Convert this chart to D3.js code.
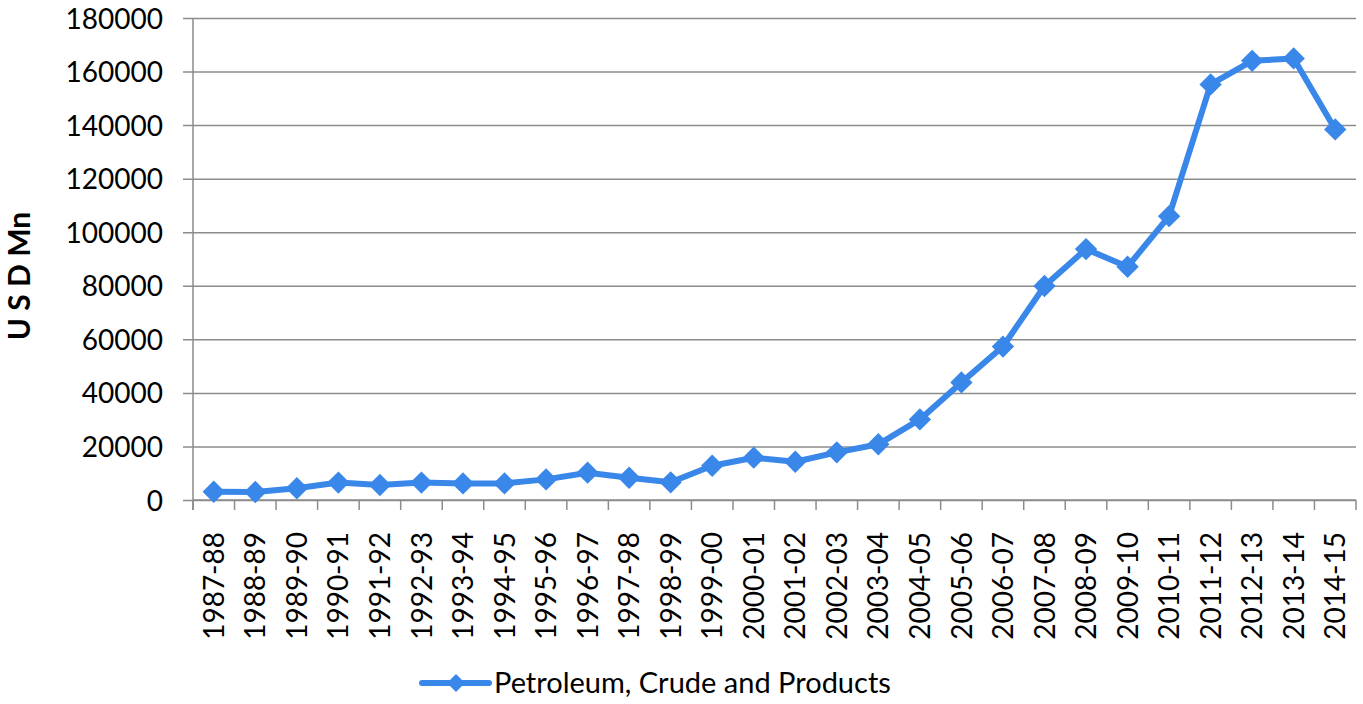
<!DOCTYPE html>
<html>
<head>
<meta charset="utf-8">
<script src="https://cdn.jsdelivr.net/npm/d3@7"></script>
<style>
  body { margin: 0; background: #fff; }
  text { font-family: Lato, "Open Sans", sans-serif; fill: #000; }
</style>
</head>
<body>
<div id="app"></div>
<script>
const years = ['1987-88', '1988-89', '1989-90', '1990-91', '1991-92', '1992-93', '1993-94',
  '1994-95', '1995-96', '1996-97', '1997-98', '1998-99', '1999-00', '2000-01', '2001-02',
  '2002-03', '2003-04', '2004-05', '2005-06', '2006-07', '2007-08', '2008-09', '2009-10',
  '2010-11', '2011-12', '2012-13', '2013-14', '2014-15'];

const petroleum = [3100, 3000, 4400, 6500, 5600, 6500, 6200,
  6200, 7700, 10200, 8300, 6600, 12800, 15800, 14300,
  17800, 20800, 30100, 43900, 57300, 79900, 93700, 87100,
  106000, 155200, 164000, 164900, 138400];

const yTicks = [0, 20000, 40000, 60000, 80000, 100000, 120000, 140000, 160000, 180000];

const seriesName = 'Petroleum, Crude and Products';
const LINE_COLOR = '#3a87ea';
const GRID_COLOR = '#8c8c8c';

const W = 1363, H = 704;
const margin = { top: 18, right: 7, bottom: 204, left: 193 };
const width = W - margin.left - margin.right,
  height = H - margin.top - margin.bottom;

const svg = d3.select('#app').append('svg')
  .attr('width', W)
  .attr('height', H);

const g = svg.append('g')
  .attr('transform', 'translate(' + margin.left + ',' + margin.top + ')');

const x = d3.scaleBand()
  .domain(years)
  .range([0, width]);

const y = d3.scaleLinear()
  .domain([0, 180000])
  .range([height, 0]);

// horizontal gridlines + left ticks
const yAxis = d3.axisLeft(y)
  .tickValues(yTicks)
  .tickSize(-width)
  .tickFormat(d3.format('d'));

const gy = g.append('g').call(yAxis);
gy.select('.domain').remove();
gy.selectAll('.tick line')
  .attr('stroke', GRID_COLOR)
  .attr('stroke-width', 1.5)
  .attr('x1', -10);
gy.selectAll('.tick text')
  .attr('font-size', 28)
  .attr('x', -30)
  .attr('dy', '0.36em');

// vertical axis line
g.append('line')
  .attr('x1', 0).attr('x2', 0)
  .attr('y1', 0).attr('y2', height + 10)
  .attr('stroke', GRID_COLOR)
  .attr('stroke-width', 1.5);

// x axis: ticks on category boundaries
const boundaries = years.map(d => x(d)).concat([width]);
g.append('g')
  .selectAll('line')
  .data(boundaries)
  .enter()
  .append('line')
  .attr('x1', d => d).attr('x2', d => d)
  .attr('y1', height).attr('y2', height + 10)
  .attr('stroke', GRID_COLOR)
  .attr('stroke-width', 1.5);

g.append('line')
  .attr('x1', 0).attr('x2', width)
  .attr('y1', height).attr('y2', height)
  .attr('stroke', GRID_COLOR)
  .attr('stroke-width', 1.5);

g.append('g')
  .selectAll('text')
  .data(years)
  .enter()
  .append('text')
  .attr('font-size', 28)
  .attr('text-anchor', 'end')
  .attr('dy', '0.36em')
  .attr('transform', d => 'translate(' + (x(d) + x.bandwidth() / 2) + ',' + (height + 32) + ') rotate(-90)')
  .text(d => d);

// y axis title
svg.append('text')
  .attr('transform', 'translate(19,' + 276 + ') rotate(-90)')
  .attr('text-anchor', 'middle')
  .attr('dy', '0.36em')
  .attr('font-size', 30)
  .attr('font-weight', 'bold')
  .text('U S D Mn');

// series line
const line = d3.line()
  .x((d, i) => x(years[i]) + x.bandwidth() / 2)
  .y(d => y(d));

g.append('path')
  .datum(petroleum)
  .attr('fill', 'none')
  .attr('stroke', LINE_COLOR)
  .attr('stroke-width', 6)
  .attr('stroke-linejoin', 'round')
  .attr('d', line);

const diamond = d3.symbol().type(d3.symbolSquare).size(250);

g.append('g')
  .selectAll('path')
  .data(petroleum)
  .enter()
  .append('path')
  .attr('fill', LINE_COLOR)
  .attr('d', diamond)
  .attr('transform', (d, i) => 'translate(' + (x(years[i]) + x.bandwidth() / 2) + ',' + y(d) + ') rotate(45)');

// legend
const legend = svg.append('g')
  .attr('transform', 'translate(422,683)');

legend.append('line')
  .attr('x1', 0).attr('x2', 67)
  .attr('stroke', LINE_COLOR)
  .attr('stroke-width', 6)
  .attr('stroke-linecap', 'round');

legend.append('path')
  .attr('fill', LINE_COLOR)
  .attr('d', d3.symbol().type(d3.symbolSquare).size(160))
  .attr('transform', 'translate(34,0) rotate(45)');

legend.append('text')
  .attr('x', 72)
  .attr('dy', '0.36em')
  .attr('font-size', 29)
  .text(seriesName);
</script>
</body>
</html>
